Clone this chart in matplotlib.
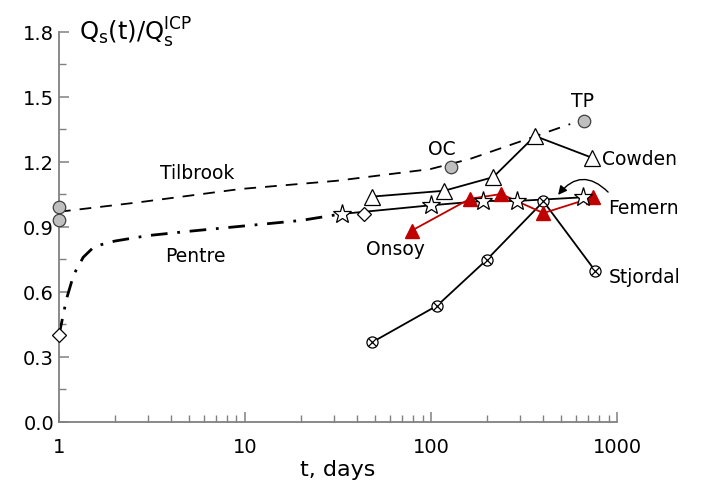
import numpy as np
import matplotlib
matplotlib.use("Agg")
import matplotlib.pyplot as plt

# values
tilbrook_t = [1.0, 2.7, 9.4, 31, 99, 162, 266, 560]
tilbrook_q = [0.97, 1.014, 1.075, 1.113, 1.167, 1.214, 1.278, 1.375]

pentre_t = [1.0, 1.04, 1.1, 1.2, 1.35, 1.55, 2.0, 3.0, 5.0, 10, 20, 33]
pentre_q = [0.40, 0.47, 0.57, 0.68, 0.76, 0.81, 0.835, 0.86, 0.88, 0.905, 0.93, 0.96]

tp_t = [1.0, 1.0, 128, 665]
tp_q = [0.99, 0.934, 1.175, 1.39]

diamond_t = [1.0, 43.8]
diamond_q = [0.40, 0.96]

star_t = [33.1, 100, 190, 291, 659]
star_q = [0.96, 1.0, 1.02, 1.02, 1.037]

cowden_t = [48, 117.5, 216, 362, 731]
cowden_q = [1.04, 1.067, 1.13, 1.32, 1.22]

onsoy_t = [78.7, 162, 238, 402, 746]
onsoy_q = [0.883, 1.03, 1.052, 0.964, 1.037]

stjordal_t = [48.3, 108, 199, 402, 762]
stjordal_q = [0.368, 0.537, 0.748, 1.018, 0.698]

site_labels = ["Tilbrook", "Pentre", "OC", "TP", "Cowden", "Femern", "Onsoy", "Stjordal"]
label_t = [5.5, 5.4, 114, 649, 835, 890, 64, 900]
label_q = [1.15, 0.77, 1.26, 1.486, 1.214, 0.992, 0.80, 0.669]
label_ha = ["center", "center", "center", "center", "left", "left", "center", "left"]

fig = plt.figure(figsize=(7.02, 4.85), dpi=100)
ax = fig.add_axes([0.084, 0.128, 0.795, 0.804])

# curves
ax.plot(tilbrook_t, tilbrook_q, color="black", lw=1.3, dashes=(6.5, 5), zorder=2)
ax.plot(pentre_t, pentre_q, color="black", lw=2.0, dashes=(6, 3.5, 1, 3.5), zorder=2)

# site data
ax.plot(star_t, star_q, color="black", lw=1.3, zorder=3)
ax.plot(cowden_t, cowden_q, color="black", lw=1.3, zorder=3)
ax.plot(stjordal_t, stjordal_q, color="black", lw=1.3, zorder=3)
ax.plot(onsoy_t, onsoy_q, color="#c00000", lw=1.3, zorder=4)

ax.plot(stjordal_t, stjordal_q, ls="none", marker="o", ms=8, mfc="white",
        mec="black", mew=0.9, zorder=5)
ax.plot(stjordal_t, stjordal_q, ls="none", marker="x", ms=6, mec="black",
        mew=0.9, zorder=6)
ax.plot(onsoy_t, onsoy_q, ls="none", marker="^", ms=10, mfc="#c00000",
        mec="#c00000", zorder=5)
ax.plot(cowden_t, cowden_q, ls="none", marker="^", ms=11, mfc="white",
        mec="black", mew=0.9, zorder=5)
ax.plot(star_t, star_q, ls="none", marker="*", ms=14, mfc="white",
        mec="black", mew=0.9, zorder=6)
ax.plot(diamond_t, diamond_q, ls="none", marker="D", ms=7.5, mfc="white",
        mec="black", mew=0.9, zorder=6, clip_on=False)
ax.plot(tp_t, tp_q, ls="none", marker="o", ms=9, mfc="#bfbfbf",
        mec="#404040", mew=0.9, zorder=6, clip_on=False)

# curved pointer to Femern line
ax.annotate("", xy=(482, 1.048), xytext=(895, 1.061),
            arrowprops=dict(arrowstyle="-|>", color="black", lw=1.0,
                            connectionstyle="arc3,rad=0.55", mutation_scale=13,
                            shrinkA=0, shrinkB=0),
            zorder=7)

for lab, t, q, ha in zip(site_labels, label_t, label_q, label_ha):
    ax.text(t, q, lab, ha=ha, va="center", fontsize=13.5)

ax.set_xscale("log")
ax.set_xlim(1, 1000)
ax.set_ylim(0, 1.8)
ax.set_yticks(np.arange(0, 1.81, 0.3))
ax.set_yticks(np.arange(0.15, 1.8, 0.3), minor=True)
ax.set_yticklabels(["0.0", "0.3", "0.6", "0.9", "1.2", "1.5", "1.8"])
ax.set_xticks([1, 10, 100, 1000])
ax.set_xticklabels(["1", "10", "100", "1000"])

for side in ["top", "right"]:
    ax.spines[side].set_visible(False)
for side in ["left", "bottom"]:
    ax.spines[side].set_color("#808080")
    ax.spines[side].set_linewidth(1.3)

ax.tick_params(which="both", direction="in", color="#808080", labelsize=14)
ax.tick_params(which="major", length=7, width=1.1)
ax.tick_params(which="minor", length=5, width=1.0)
ax.tick_params(axis="x", pad=11)

ax.set_xlabel("t, days", fontsize=16, labelpad=2)
ax.text(0.036, 1.0, r"$\mathrm{Q_s(t)/Q_s^{ICP}}$", transform=ax.transAxes,
        fontsize=17.5, ha="left", va="center")

fig.savefig("out.png", dpi=100)
